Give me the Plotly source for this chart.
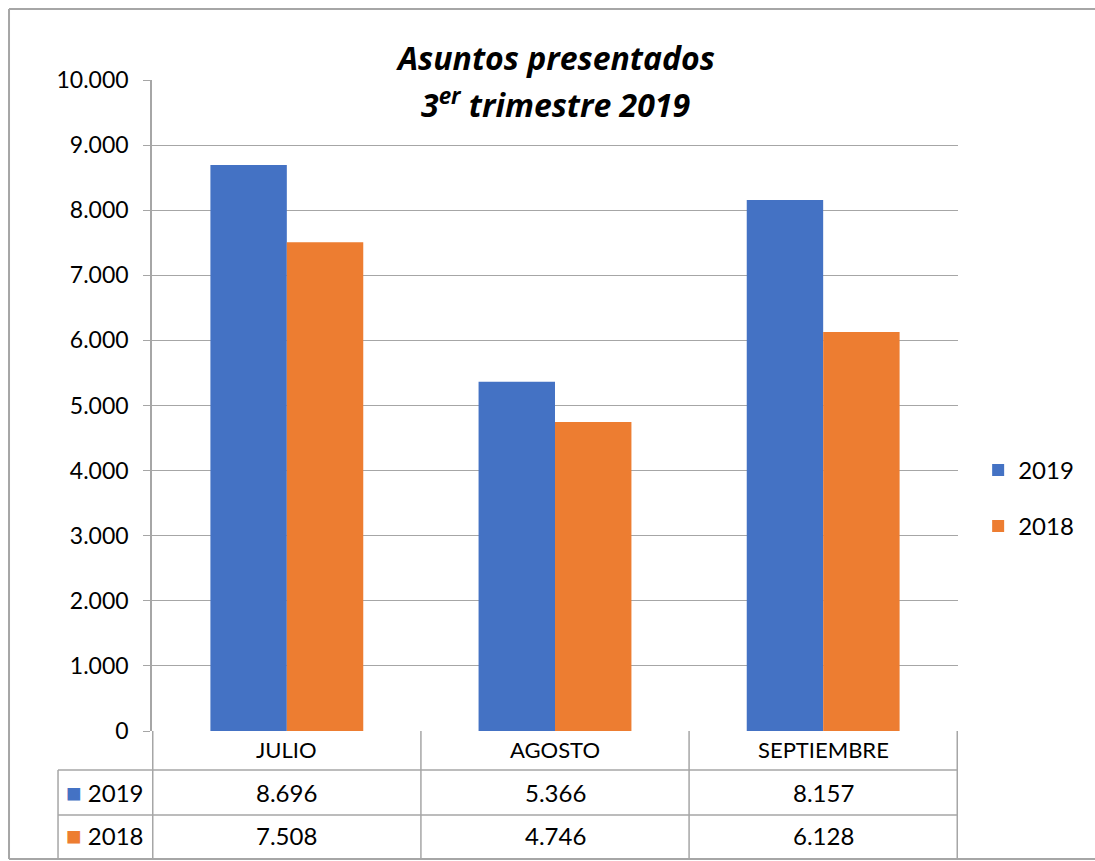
import plotly.graph_objects as go

# datos
meses = ['JULIO', 'AGOSTO', 'SEPTIEMBRE']
anios = ['2019', '2018']
valores_2019 = [8696, 5366, 8157]
valores_2018 = [7508, 4746, 6128]
ticks_y = [0, 1000, 2000, 3000, 4000, 5000, 6000, 7000, 8000, 9000, 10000]

colores = {'2019': '#4472C4', '2018': '#ED7D31'}
gris = '#a6a6a6'
fuente = 'Lato, "Open Sans", sans-serif'

fig = go.Figure()
for anio, vals in zip(anios, [valores_2019, valores_2018]):
    fig.add_trace(go.Bar(
        x=meses, y=vals, name=anio,
        marker_color=colores[anio], marker_line_width=0,
        legendgroup=anio,
    ))

def fmt(v):
    return f"{v:,}".replace(',', '.')

# tabla de datos bajo el eje (y en coordenadas paper)
y_cat = -0.029
y_filas = [-0.094, -0.160]
annotations = []
for mes in meses:
    annotations.append(dict(x=mes, y=y_cat, xref='x', yref='paper', text=mes,
                            xanchor='center', yanchor='middle',
                            showarrow=False, font=dict(size=22, color='black')))
for fila, (anio, vals) in enumerate(zip(anios, [valores_2019, valores_2018])):
    for mes, v in zip(meses, vals):
        annotations.append(dict(x=mes, y=y_filas[fila], xref='x', yref='paper', text=fmt(v),
                                xanchor='center', yanchor='middle',
                                showarrow=False, font=dict(size=24, color='black')))
    annotations.append(dict(x=-0.058, y=y_filas[fila], xref='paper', yref='paper',
                            xanchor='center', yanchor='middle',
                            text=f"<span style='color:{colores[anio]};font-size:26px'>■</span> {anio}",
                            showarrow=False, font=dict(size=24, color='black')))

titulo_fuente = dict(family='"Open Sans", sans-serif', size=32, color='black')
annotations.append(dict(x=0.5, y=1.034, xref='paper', yref='paper',
                        xanchor='center', yanchor='middle',
                        text='<b><i>Asuntos presentados</i></b>',
                        showarrow=False, font=titulo_fuente))
annotations.append(dict(x=0.5, y=0.965, xref='paper', yref='paper',
                        xanchor='center', yanchor='middle',
                        text='<b><i>3<sup>er</sup> trimestre 2019</i></b>',
                        showarrow=False, font=titulo_fuente))

shapes = []
linea = dict(color=gris, width=1.5)
y_fondo = -0.195
# bordes verticales de la tabla
for xb in [-0.5, 0.5, 1.5, 2.5]:
    shapes.append(dict(type='line', xref='x', yref='paper', x0=xb, x1=xb,
                       y0=0, y1=y_fondo, line=linea))
shapes.append(dict(type='line', xref='paper', yref='paper', x0=-0.1166, x1=-0.1166,
                   y0=-0.060, y1=y_fondo, line=linea))
for yl in [-0.060, -0.129]:
    shapes.append(dict(type='line', xref='paper', yref='paper', x0=-0.1166, x1=1,
                       y0=yl, y1=yl, line=linea))
# marco exterior (sin borde derecho, queda fuera de la imagen)
marco = dict(color=gris, width=2)
shapes.append(dict(type='line', xref='paper', yref='paper', x0=-0.1774, x1=-0.1774,
                   y0=-0.1966, y1=1.109, line=marco))
for yl in [-0.1966, 1.109]:
    shapes.append(dict(type='line', xref='paper', yref='paper', x0=-0.1774, x1=1.3,
                       y0=yl, y1=yl, line=marco))

fig.update_layout(
    width=1095, height=861,
    margin=dict(l=152, r=137, t=80, b=130),
    plot_bgcolor='white', paper_bgcolor='white',
    separators=',.',
    font=dict(family=fuente, size=23, color='black'),
    bargap=0.43, bargroupgap=0,
    showlegend=True,
    legend=dict(x=1.025, y=0.435, xanchor='left', yanchor='top',
                traceorder='grouped', tracegroupgap=22,
                font=dict(size=24), itemwidth=30),
    annotations=annotations,
    shapes=shapes,
)
fig.update_xaxes(showticklabels=False, showline=False, showgrid=False, ticks='')
fig.update_yaxes(range=[0, 10000], tickvals=ticks_y, tickformat=',d',
                 showgrid=True, gridcolor=gris, gridwidth=1.2, zeroline=False,
                 showline=True, linecolor=gris, linewidth=1.5,
                 ticks='outside', ticklen=7, tickcolor=gris, ticklabelstandoff=10,
                 tickfont=dict(size=23))

# sin margen en el body para que la figura ocupe la ventana entera
fig.write_html("out.html",
               config={'displayModeBar': False},
               post_script="document.body.style.margin='0';document.body.style.overflow='hidden';")
